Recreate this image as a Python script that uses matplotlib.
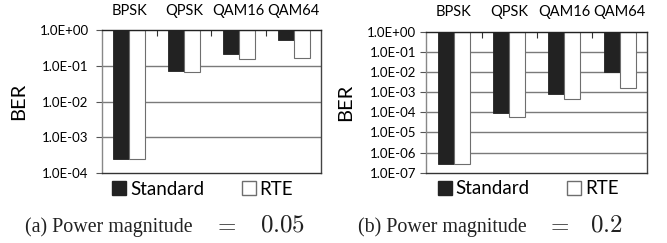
import numpy as np
import matplotlib.pyplot as plt
from matplotlib.patches import Patch

# Data
schemes = ['BPSK', 'QPSK', 'QAM16', 'QAM64']
std_005 = [2.4e-4, 0.07, 0.21, 0.52]
rte_005 = [2.4e-4, 0.068, 0.15, 0.17]
std_02 = [2.6e-7, 9.0e-5, 7.8e-4, 1.0e-2]
rte_02 = [2.6e-7, 5.8e-5, 4.7e-4, 1.55e-3]
yticks_005 = [1e0, 1e-1, 1e-2, 1e-3, 1e-4]
yticks_02 = [1e0, 1e-1, 1e-2, 1e-3, 1e-4, 1e-5, 1e-6, 1e-7]
cap_text = ['(a) Power magnitude', '(b) Power magnitude']
cap_value = ['$0.05$', '$0.2$']

plt.rcParams['font.family'] = ['Lato', 'DejaVu Sans']
plt.rcParams['mathtext.fontset'] = 'cm'

W, H = 667, 243
fig = plt.figure(figsize=(6.67, 2.43), dpi=100)
ax1 = fig.add_axes([0.1525, 0.288, 0.3288, 0.5885])
ax2 = fig.add_axes([0.6391, 0.2893, 0.3313, 0.5802])

x = np.arange(len(schemes))
w = 0.29


def draw(ax, std, rte, yticks, tpad, lx):
    std = np.array(std)
    rte = np.array(rte)
    ax.set_yscale('log')
    ax.set_ylim(yticks[-1], 1)
    ax.set_xlim(-0.5, len(schemes) - 0.5)
    ax.set_axisbelow(True)
    for t in yticks[1:-1]:
        ax.axhline(t, color='#7a7a7a', lw=1.0, zorder=0)
    ax.bar(x - w / 2, std - 1, bottom=1, width=w, color='#222222',
           edgecolor='#222222', lw=0.6, zorder=2)
    ax.bar(x + w / 2, rte - 1, bottom=1, width=w, color='white',
           edgecolor='#6e6e6e', lw=0.8, zorder=2)

    ax.set_yticks(yticks)
    ax.set_yticklabels(['1.0E+00' if t == 1 else '1.0E-%02d' % round(-np.log10(t))
                        for t in yticks], fontsize=9.5)
    ax.yaxis.set_minor_locator(plt.NullLocator())
    ax.tick_params(axis='y', direction='out', length=4, width=0.8,
                   color='#555555', pad=tpad)
    ax.set_ylabel('BER', fontsize=14.5, labelpad=9)

    ax.xaxis.tick_top()
    ax.set_xticks(x)
    ax.set_xticklabels(schemes, fontsize=10.5)
    ax.tick_params(axis='x', which='major', length=0, pad=9)
    ax.set_xticks(x[:-1] + 0.5, minor=True)
    ax.tick_params(axis='x', which='minor', direction='in', length=4,
                   width=0.8, color='#333333', top=True, bottom=False)

    ax.spines['top'].set_color('#222222')
    ax.spines['bottom'].set_color('#333333')
    ax.spines['left'].set_color('#888888')
    ax.spines['right'].set_color('#444444')
    for s in ax.spines.values():
        s.set_linewidth(1.0)

    handles = [Patch(facecolor='#222222', edgecolor='#222222', label='Standard'),
               Patch(facecolor='white', edgecolor='#6e6e6e', label='RTE')]
    ax.legend(handles=handles, ncol=2, frameon=False, fontsize=13.5,
              loc='upper center', bbox_to_anchor=(lx, 0.0),
              handlelength=0.75, handleheight=0.75, handletextpad=0.2,
              columnspacing=2.0, borderaxespad=0.0)


def caption(text, value, x0, xeq, x1):
    yb = 1 - 231.5 / H
    fig.text(x0 / W, yb, text, ha='left', va='baseline', fontsize=14.4,
             family='Liberation Serif', color='#222222')
    fig.text(xeq / W, yb, '$=$', ha='center', va='baseline', fontsize=17,
             color='#222222')
    fig.text(x1 / W, yb, value, ha='right', va='baseline', fontsize=18,
             color='#222222')


draw(ax1, std_005, rte_005, yticks_005, 5.5, 0.46)
draw(ax2, std_02, rte_02, yticks_02, 3.5, 0.462)
caption(cap_text[0], cap_value[0], 25, 225, 305)
caption(cap_text[1], cap_value[1], 358, 558, 623)

fig.savefig('out.png', dpi=100)
